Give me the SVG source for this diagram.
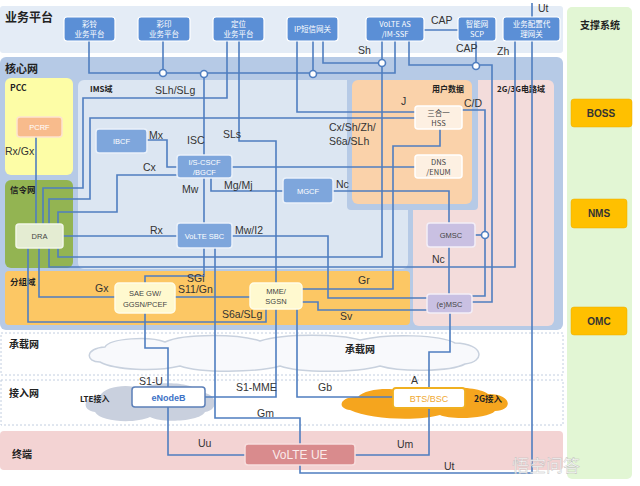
<svg xmlns="http://www.w3.org/2000/svg" width="640" height="486" viewBox="0 0 640 486">
<defs>
<style>
.ln{fill:none;stroke:#4f7ec0;stroke-width:1.6}
.jn{fill:#fff;stroke:#4f7ec0;stroke-width:1.6}
.lb{font-family:"Liberation Sans","Noto Sans",sans-serif;font-size:10.5px;fill:#333}
.zh{font-family:"Noto Sans CJK SC",sans-serif;font-weight:bold;fill:#222}
.tb{fill:#5b8fd6;stroke:#fff;stroke-width:1.2}
.tt{font-family:"Noto Sans CJK SC",sans-serif;font-size:7.5px;fill:#fff;text-anchor:middle}
.cb{fill:#7ea6dc;stroke:#eaf1fa;stroke-width:1.5}
.ct{font-family:"Liberation Sans","Noto Sans CJK SC",sans-serif;font-size:7.5px;fill:#fff;text-anchor:middle}
.pb{fill:#c9c0e2;stroke:#f3eef8;stroke-width:1.5}
.pt{font-family:"Liberation Sans",sans-serif;font-size:7.5px;fill:#444;text-anchor:middle}
.hb{fill:#fdf0e2;stroke:#fff;stroke-width:1.5}
.ht{font-family:"Noto Sans CJK SC","Liberation Sans",sans-serif;font-size:7.5px;fill:#444;text-anchor:middle}
.yb{fill:#fff9cf;stroke:#fffde8;stroke-width:1.5}
.sup{fill:#ffc000;stroke:#e9ad00;stroke-width:0.5}
.st{font-family:"Liberation Sans",sans-serif;font-size:10px;font-weight:bold;fill:#333;text-anchor:middle}
.dot{fill:#fff;stroke:#c2cee0;stroke-width:1;stroke-dasharray:2 2}
</style>
</defs>

<g id="background">
<rect x="0" y="6" width="563" height="47" rx="3" fill="#e4ecf6"/>
<rect x="0" y="57" width="563" height="273" rx="6" fill="#b6cae6"/>
<rect x="78" y="80" width="330" height="189" rx="6" fill="#dce6f2"/>
<rect x="413" y="80" width="141" height="246" rx="6" fill="#f3dcdb"/>
<rect x="347" y="76" width="131" height="134" rx="4" fill="#b6cae6"/>
<rect x="352" y="80" width="120" height="124" rx="6" fill="#fad2aa"/>
<rect x="5" y="78" width="68" height="97" rx="6" fill="#fdfda6"/>
<rect x="5" y="180" width="68" height="88" rx="6" fill="#93b452"/>
<rect x="5" y="271" width="405" height="54" rx="4" fill="#fcc764"/>
<rect x="1" y="333" width="562" height="42" class="dot"/>
<rect x="1" y="380" width="562" height="45" class="dot"/>
<rect x="0" y="431" width="563" height="39" rx="4" fill="#f3d3d3"/>
<rect x="567" y="7" width="65" height="472" rx="5" fill="#e2f6d4"/>
<path d="M100,362 C85,362 85,348 105,347 C110,338 150,336 165,342 C185,333 240,334 260,341 C285,333 340,334 360,340 C390,333 440,335 455,343 C485,344 485,362 465,364 C450,372 400,372 380,366 C355,373 300,373 280,366 C255,373 200,373 180,366 C155,372 115,370 100,362 Z" fill="#f8f9fc" stroke="#c8d1de" stroke-width="1.5"/>
<path d="M95,412 C80,410 84,395 100,396 C104,386 130,383 140,389 C155,380 195,382 198,392 C218,392 220,410 205,412 C200,422 160,423 150,417 C135,424 100,422 95,412 Z" fill="#c9d0de"/>
<path d="M350,410 C336,408 340,396 358,397 C365,388 395,387 405,392 C430,384 480,386 488,394 C512,394 514,410 495,411 C488,419 450,420 440,415 C420,421 370,420 350,410 Z" fill="#f5a51e"/>
</g>

<g id="region-labels">
<text x="5" y="22" class="zh" font-size="12">业务平台</text>
<text x="5" y="73" class="zh" font-size="11">核心网</text>
<text x="10" y="91" class="zh" font-size="8.5">PCC</text>
<text x="90" y="92" class="zh" font-size="8">IMS域</text>
<text x="10" y="193" class="zh" font-size="8.5">信令网</text>
<text x="10" y="285" class="zh" font-size="8.5">分组域</text>
<text x="432" y="92" class="zh" font-size="8">用户数据</text>
<text x="497" y="92" class="zh" font-size="8">2G/3G电路域</text>
<text x="9" y="348" class="zh" font-size="10">承载网</text>
<text x="9" y="397" class="zh" font-size="10">接入网</text>
<text x="12" y="458" class="zh" font-size="10">终端</text>
<text x="345" y="353" class="zh" font-size="10" font-weight="normal" fill="#444">承载网</text>
<text x="80" y="402" class="zh" font-size="8">LTE接入</text>
<text x="474" y="402" class="zh" font-size="8.5">2G接入</text>
<text x="600" y="29" class="zh" font-size="10" text-anchor="middle">支撑系统</text>
</g>

<g id="connectors">
<path class="ln" d="M89,40 V73 H395 V40"/>
<path class="ln" d="M163,40 V73"/>
<path class="ln" d="M227,40 V98 H83 V188 H43 V224"/>
<path class="ln" d="M239,40 V141 H276 V283"/>
<path class="ln" d="M313,40 V73"/>
<path class="ln" d="M323,40 V63 H382"/>
<path class="ln" d="M297,40 V112 H415"/>
<path class="ln" d="M382,40 V257 H58 V248"/>
<path class="ln" d="M409,40 V65 H492 V302 H472"/>
<path class="ln" d="M476,40 V65"/>
<path class="ln" d="M424,30 H458"/>
<path class="ln" d="M515,40 V267 H49 V248"/>
<path class="ln" d="M532,3 V17 M532,40 V473 H300 V465"/>
<path class="ln" d="M36,137 V224"/>
<path class="ln" d="M49,224 V199 H90 V118 H415"/>
<path class="ln" d="M58,224 V212 H117 V175 H177"/>
<path class="ln" d="M147,140 H167 V167 H177"/>
<path class="ln" d="M204,73 V155"/>
<path class="ln" d="M204,178 V223"/>
<path class="ln" d="M211,178 V191 H283"/>
<path class="ln" d="M232,167 H415"/>
<path class="ln" d="M333,191 H449 V223"/>
<path class="ln" d="M449,247 V294"/>
<path class="ln" d="M462,110 H485 V296 H472"/>
<path class="ln" d="M475,235 H485"/>
<path class="ln" d="M63,236 H177"/>
<path class="ln" d="M232,236 H328 V298 H427"/>
<path class="ln" d="M302,289 H393 V146 H440 V129"/>
<path class="ln" d="M302,302 H318 V310 H427"/>
<path class="ln" d="M204,248 V276 H145 V283"/>
<path class="ln" d="M175,297 H250"/>
<path class="ln" d="M39,248 V297 H115"/>
<path class="ln" d="M28,248 V322 H266 V309"/>
<path class="ln" d="M215,248 V418 H300 V444"/>
<path class="ln" d="M145,313 V348 H168 V387"/>
<path class="ln" d="M168,407 V455 H245"/>
<path class="ln" d="M205,397 H276 V309"/>
<path class="ln" d="M297,309 V397 H393"/>
<path class="ln" d="M450,313 V352 H429 V388"/>
<path class="ln" d="M429,408 V455 H355"/>
<circle class="jn" cx="163" cy="73" r="3.5"/>
<circle class="jn" cx="204" cy="74" r="3.5"/>
<circle class="jn" cx="313" cy="74" r="3.5"/>
<circle class="jn" cx="382" cy="63" r="3.5"/>
<circle class="jn" cx="476" cy="66" r="3.5"/>
<circle class="jn" cx="485" cy="235" r="3.5"/>
</g>

<g id="connector-labels">
<text x="358" y="54" class="lb">Sh</text>
<text x="431" y="24" class="lb">CAP</text>
<text x="456" y="52" class="lb">CAP</text>
<text x="497" y="55" class="lb">Zh</text>
<text x="538" y="12" class="lb">Ut</text>
<text x="155" y="94" class="lb">SLh/SLg</text>
<text x="5" y="155" class="lb">Rx/Gx</text>
<text x="149" y="139" class="lb">Mx</text>
<text x="187" y="144" class="lb">ISC</text>
<text x="223" y="138" class="lb">SLs</text>
<text x="143" y="171" class="lb">Cx</text>
<text x="182" y="193" class="lb">Mw</text>
<text x="224" y="189" class="lb">Mg/Mj</text>
<text x="150" y="234" class="lb">Rx</text>
<text x="235" y="234" class="lb">Mw/I2</text>
<text x="336" y="188" class="lb">Nc</text>
<text x="329" y="131" class="lb">Cx/Sh/Zh/</text>
<text x="329" y="145" class="lb">S6a/SLh</text>
<text x="401" y="105" class="lb">J</text>
<text x="464" y="107" class="lb">C/D</text>
<text x="432" y="263" class="lb">Nc</text>
<text x="95" y="292" class="lb">Gx</text>
<text x="187" y="282" class="lb">SGi</text>
<text x="178" y="293" class="lb">S11/Gn</text>
<text x="358" y="284" class="lb">Gr</text>
<text x="222" y="318" class="lb">S6a/SLg</text>
<text x="340" y="320" class="lb">Sv</text>
<text x="139" y="385" class="lb">S1-U</text>
<text x="236" y="391" class="lb">S1-MME</text>
<text x="318" y="391" class="lb">Gb</text>
<text x="411" y="384" class="lb">A</text>
<text x="257" y="417" class="lb">Gm</text>
<text x="198" y="447" class="lb">Uu</text>
<text x="397" y="448" class="lb">Um</text>
<text x="444" y="470" class="lb">Ut</text>
</g>

<g id="n-cailing"><rect class="tb" x="64" y="17" width="51" height="24" rx="3"/><text class="tt" x="89.5" y="27">彩铃</text><text class="tt" x="89.5" y="37">业务平台</text></g>
<g id="n-caiyin"><rect class="tb" x="138" y="17" width="52" height="24" rx="3"/><text class="tt" x="164" y="27">彩印</text><text class="tt" x="164" y="37">业务平台</text></g>
<g id="n-dingwei"><rect class="tb" x="213" y="17" width="51" height="24" rx="3"/><text class="tt" x="238.5" y="27">定位</text><text class="tt" x="238.5" y="37">业务平台</text></g>
<g id="n-ipsms"><rect class="tb" x="287" y="17" width="51" height="24" rx="3"/><text class="tt" x="312.5" y="32">IP短信网关</text></g>
<g id="n-volteas"><rect class="tb" x="366" y="17" width="58" height="24" rx="3"/><text class="tt" x="395" y="27">VoLTE AS</text><text class="tt" x="395" y="37">/IM-SSF</text></g>
<g id="n-scp"><rect class="tb" x="458" y="17" width="38" height="24" rx="3"/><text class="tt" x="477" y="27">智能网</text><text class="tt" x="477" y="37">SCP</text></g>
<g id="n-proxy"><rect class="tb" x="503" y="17" width="57" height="24" rx="3"/><text class="tt" x="531.5" y="27">业务配置代</text><text class="tt" x="531.5" y="37">理网关</text></g>

<g id="n-pcrf"><rect x="17" y="117" width="45" height="20" rx="3" fill="#f8bb8c" stroke="#fde3cf" stroke-width="1.5"/><text class="ct" x="39.5" y="130">PCRF</text></g>
<g id="n-ibcf"><rect class="cb" x="96" y="129" width="51" height="24" rx="3"/><text class="ct" x="121.5" y="144">IBCF</text></g>
<g id="n-cscf"><rect class="cb" x="177" y="155" width="55" height="23" rx="3"/><text class="ct" x="204.5" y="165">I/S-CSCF</text><text class="ct" x="204.5" y="175">/BGCF</text></g>
<g id="n-mgcf"><rect class="cb" x="283" y="178" width="50" height="25" rx="3"/><text class="ct" x="308" y="193.5">MGCF</text></g>
<g id="n-sbc"><rect class="cb" x="177" y="223" width="55" height="25" rx="3"/><text class="ct" x="204.5" y="238.5">VoLTE SBC</text></g>
<g id="n-dra"><rect x="16" y="224" width="47" height="24" rx="3" fill="#e4ecd2" stroke="#f2f6e8" stroke-width="1.5"/><text class="pt" x="39.5" y="239">DRA</text></g>
<g id="n-hss"><rect class="hb" x="415" y="106" width="47" height="23" rx="3"/><text class="ht" x="438.5" y="116">三合一</text><text class="ht" x="438.5" y="126">HSS</text></g>
<g id="n-dns"><rect class="hb" x="415" y="155" width="47" height="23" rx="3"/><text class="ht" x="438.5" y="165">DNS</text><text class="ht" x="438.5" y="175">/ENUM</text></g>
<g id="n-gmsc"><rect class="pb" x="427" y="223" width="48" height="24" rx="3"/><text class="pt" x="451" y="238">GMSC</text></g>
<g id="n-emsc"><rect class="pb" x="427" y="294" width="45" height="19" rx="3"/><text class="pt" x="449.5" y="306.5">(e)MSC</text></g>
<g id="n-saegw"><rect class="yb" x="115" y="283" width="60" height="30" rx="4"/><text class="pt" x="145" y="296">SAE GW/</text><text class="pt" x="145" y="307">GGSN/PCEF</text></g>
<g id="n-mme"><rect class="yb" x="250" y="283" width="52" height="26" rx="4"/><text class="pt" x="276" y="294">MME/</text><text class="pt" x="276" y="304">SGSN</text></g>
<g id="n-enodeb"><rect x="132" y="387" width="73" height="20" rx="3" fill="#fff" stroke="#5b7fb8" stroke-width="1.5"/><text x="168.5" y="400.5" font-family="Liberation Sans,sans-serif" font-size="9" font-weight="bold" fill="#3d72c6" text-anchor="middle">eNodeB</text></g>
<g id="n-btsbsc"><rect x="393" y="388" width="72" height="20" rx="3" fill="#fff" stroke="#f0b020" stroke-width="1.8"/><text x="429" y="401.5" font-family="Liberation Sans,sans-serif" font-size="9" fill="#f0a830" text-anchor="middle">BTS/BSC</text></g>
<g id="n-ue"><rect x="245" y="444" width="110" height="21" rx="3" fill="#d98b8d" stroke="#f7dede" stroke-width="1.5"/><text x="300" y="459" font-family="Liberation Sans,sans-serif" font-size="12" fill="#fbeaea" text-anchor="middle">VoLTE UE</text></g>
<g id="n-boss"><rect class="sup" x="571" y="99" width="61" height="28" rx="3"/><text class="st" x="601" y="117">BOSS</text></g>
<g id="n-nms"><rect class="sup" x="571" y="199" width="56" height="29" rx="3"/><text class="st" x="599" y="217">NMS</text></g>
<g id="n-omc"><rect class="sup" x="571" y="307" width="56" height="28" rx="3"/><text class="st" x="599" y="325">OMC</text></g>

<g id="watermark"><text x="512" y="472" font-family="Noto Sans CJK SC,sans-serif" font-size="17" fill="#ffffff" fill-opacity="0.85" stroke="#bbbbbb" stroke-width="0.4">悟空问答</text></g>
</svg>
